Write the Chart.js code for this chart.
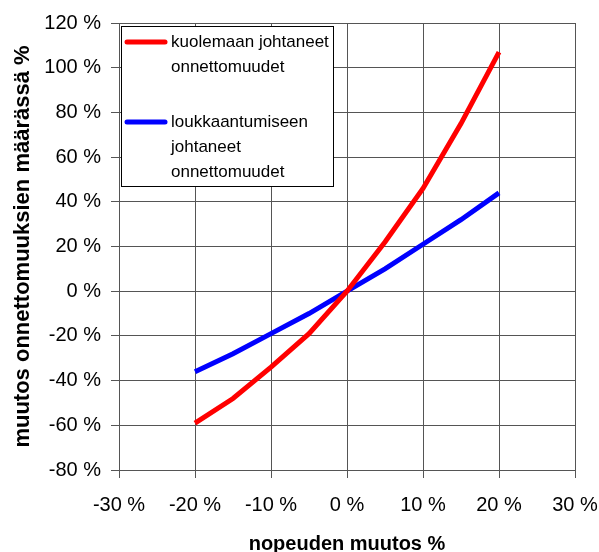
<!DOCTYPE html>
<html>
<head>
<meta charset="utf-8">
<script src="https://cdn.jsdelivr.net/npm/chart.js@4.4.1/dist/chart.umd.min.js"></script>
<style>
  html, body { margin: 0; padding: 0; background: #fff; }
  #wrap { width: 599px; height: 552px; }
</style>
</head>
<body>
<div id="wrap"><canvas id="chart" width="599" height="552"></canvas></div>
<script>
// Speed change (%) and the resulting change in accident counts (%)
const speedChange = [-20, -15, -10, -5, 0, 5, 10, 15, 20];
const fatalChange = [-59, -48, -34, -19, 0, 22, 46, 75, 107];
const injuryChange = [-36, -28, -19, -10, 0, 10, 21, 32, 44];

const seriesLabels = [
  ['kuolemaan johtaneet', 'onnettomuudet'],
  ['loukkaantumiseen', 'johtaneet', 'onnettomuudet']
];
const xTitle = 'nopeuden muutos %';
const yTitle = 'muutos onnettomuuksien määrässä %';

const FONT = "'Liberation Sans', Arial, sans-serif";

const toPoints = (xs, ys) => xs.map((x, i) => ({ x, y: ys[i] }));

// Legend box drawn inside the plot area, top-left, with wrapped labels
const boxLegend = {
  id: 'boxLegend',
  afterDraw(chart) {
    const ctx = chart.ctx;
    const area = chart.chartArea;
    const x0 = area.left + 2, y0 = area.top + 3, w = 212, h = 160;
    ctx.save();
    ctx.fillStyle = '#fff';
    ctx.fillRect(x0, y0, w, h);
    ctx.strokeStyle = '#000';
    ctx.lineWidth = 1;
    ctx.strokeRect(Math.round(x0) + 0.5, Math.round(y0) + 0.5, w, h);
    ctx.font = '17px ' + FONT;
    ctx.textBaseline = 'middle';
    ctx.fillStyle = '#000';
    const starts = [y0 + 16, y0 + 96];
    chart.data.datasets.forEach((ds, i) => {
      const yy = starts[i];
      ctx.strokeStyle = ds.borderColor;
      ctx.lineWidth = 5;
      ctx.lineCap = 'round';
      ctx.beginPath();
      ctx.moveTo(x0 + 6, yy);
      ctx.lineTo(x0 + 44, yy);
      ctx.stroke();
      ds.legendLines.forEach((t, j) => {
        ctx.fillText(t, x0 + 50, yy + j * 25);
      });
    });
    ctx.restore();
  }
};

new Chart(document.getElementById('chart'), {
  type: 'line',
  data: {
    datasets: [
      {
        label: seriesLabels[0].join(' '),
        legendLines: seriesLabels[0],
        data: toPoints(speedChange, fatalChange),
        borderColor: '#ff0000',
        borderWidth: 5,
        pointRadius: 0,
        tension: 0,
        fill: false
      },
      {
        label: seriesLabels[1].join(' '),
        legendLines: seriesLabels[1],
        data: toPoints(speedChange, injuryChange),
        borderColor: '#0000ff',
        borderWidth: 5,
        pointRadius: 0,
        tension: 0,
        fill: false
      }
    ]
  },
  options: {
    responsive: false,
    animation: false,
    layout: { padding: { top: 23, right: 24, left: 0, bottom: 0 } },
    plugins: {
      legend: { display: false },
      tooltip: { enabled: false }
    },
    scales: {
      x: {
        type: 'linear',
        min: -30,
        max: 30,
        ticks: {
          stepSize: 10,
          color: '#000',
          font: { family: FONT, size: 20 },
          padding: 15,
          maxRotation: 0,
          callback: v => v + ' %'
        },
        grid: { color: '#555', lineWidth: 1, tickLength: 8, drawTicks: true },
        border: { color: '#555', width: 1 },
        title: {
          display: true,
          text: xTitle,
          color: '#000',
          font: { family: FONT, size: 20, weight: 'bold', lineHeight: 0.8 },
          padding: { top: 8, bottom: 0 }
        },
        afterFit: s => { s.height = 82; s.paddingRight = 0; s.paddingLeft = 0; }
      },
      y: {
        min: -80,
        max: 120,
        ticks: {
          stepSize: 20,
          color: '#000',
          font: { family: FONT, size: 20 },
          padding: 10,
          callback: v => v + ' %'
        },
        grid: { color: '#555', lineWidth: 1, tickLength: 8, drawTicks: true },
        border: { color: '#555', width: 1 },
        title: {
          display: true,
          text: yTitle,
          color: '#000',
          font: { family: FONT, size: 22, weight: 'bold' },
          padding: { top: 10, bottom: 0 }
        },
        afterFit: s => { s.width = 119; s.paddingTop = 0; s.paddingBottom = 0; }
      }
    }
  },
  plugins: [boxLegend]
});
</script>
</body>
</html>
